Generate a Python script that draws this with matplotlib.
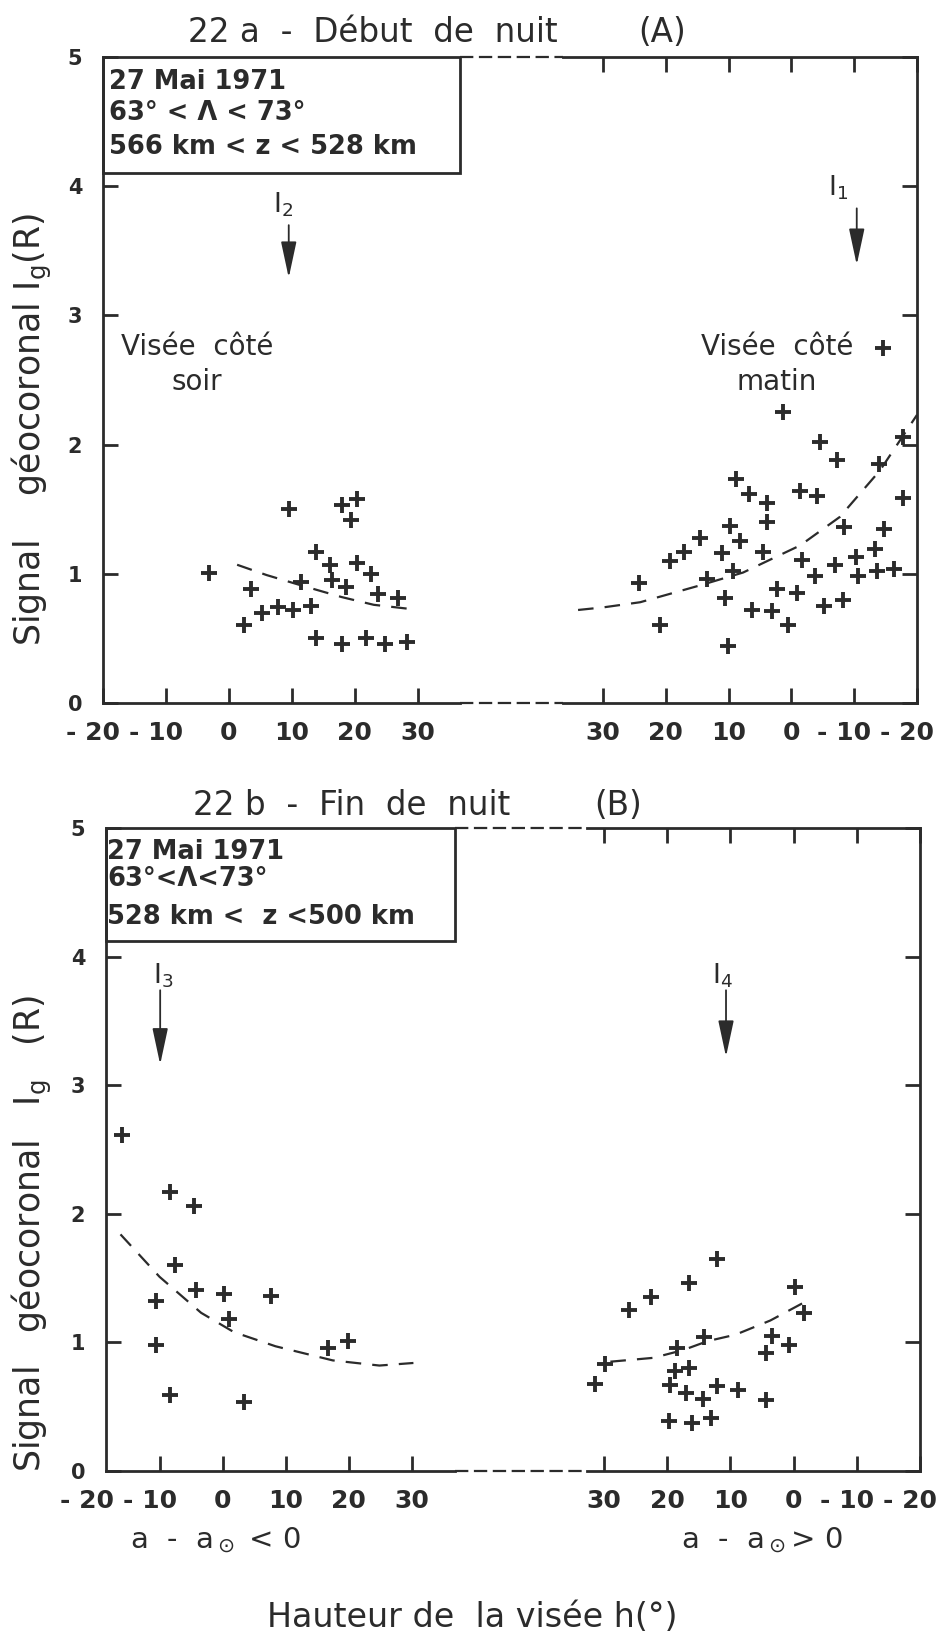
import matplotlib
matplotlib.use('Agg')
from matplotlib import pyplot as plt
from matplotlib.lines import Line2D
from matplotlib.patches import Rectangle

# 22a - debut de nuit, visee cote soir
a_soir_h = [-3.1, 9.5, 17.9, 20.4, 19.4, 13.9, 16.0, 20.4, 22.6, 11.5, 16.3, 18.6, 3.5,
            23.7, 26.8, 5.2, 7.8, 10.1, 13.1, 2.4, 13.8, 17.9, 21.8, 24.8, 28.3]
a_soir_I = [1.01, 1.50, 1.53, 1.58, 1.42, 1.17, 1.07, 1.08, 1.00, 0.94, 0.95, 0.90, 0.88,
            0.84, 0.81, 0.70, 0.74, 0.72, 0.75, 0.60, 0.50, 0.46, 0.50, 0.46, 0.47]
a_soir_fit_h = [1.3, 6.0, 11.5, 17.9, 23.0, 28.4]
a_soir_fit_I = [1.07, 0.99, 0.91, 0.82, 0.76, 0.73]

# 22a - visee cote matin
a_matin_h = [1.3, -4.6, -7.3, -17.8, -14.0, -17.8, 8.8, 6.8, 3.9, -1.4, -4.1, 9.8, 3.9, 14.6,
             8.2, 17.1, 19.3, 11.1, 4.5, -8.4, -14.7, 24.3, 13.4, 9.3, -1.7, -6.9, -10.3,
             -13.3, -3.8, -10.6, -13.6, -16.3, 2.3, -0.9, 10.6, 6.3, 3.1, -5.2, -8.2, 0.5,
             20.9, 10.1, -14.6]
a_matin_I = [2.25, 2.02, 1.88, 2.06, 1.85, 1.59, 1.73, 1.62, 1.55, 1.64, 1.60, 1.37, 1.40, 1.28,
             1.25, 1.17, 1.10, 1.16, 1.17, 1.36, 1.35, 0.93, 0.96, 1.02, 1.11, 1.07, 1.13,
             1.19, 0.98, 0.98, 1.02, 1.04, 0.88, 0.85, 0.81, 0.72, 0.71, 0.75, 0.80, 0.60,
             0.60, 0.44, 2.75]
a_matin_fit_h = [34.0, 30.0, 24.1, 14.6, 7.7, -1.4, -7.7, -14.1, -20.0]
a_matin_fit_I = [0.72, 0.74, 0.78, 0.91, 1.01, 1.22, 1.44, 1.80, 2.23]

# 22b - fin de nuit, cote soir
b_soir_h = [-16.0, -8.3, -4.5, -7.5, -4.2, 0.3, 7.7, -10.6, 1.0, -10.6, 16.7, 19.9, -8.3, 3.4]
b_soir_I = [2.61, 2.17, 2.06, 1.60, 1.41, 1.38, 1.36, 1.32, 1.18, 0.98, 0.96, 1.01, 0.59, 0.54]
b_soir_fit_h = [-16.2, -10.0, -3.4, 1.8, 8.4, 17.5, 24.9, 30.3]
b_soir_fit_I = [1.84, 1.51, 1.23, 1.08, 0.97, 0.86, 0.82, 0.84]

# 22b - cote matin
b_matin_h = [12.2, 16.5, 22.5, 26.1, -0.2, -1.7, 29.8, 31.4, 18.4, 14.2, 3.4, 0.8, 4.3, 18.8,
             16.5, 19.6, 17.0, 14.3, 12.2, 8.8, 4.3, 19.7, 16.1, 13.0]
b_matin_I = [1.65, 1.46, 1.35, 1.25, 1.43, 1.23, 0.83, 0.68, 0.96, 1.04, 1.05, 0.98, 0.92, 0.78,
             0.80, 0.67, 0.61, 0.56, 0.66, 0.63, 0.55, 0.39, 0.37, 0.41]
b_matin_fit_h = [29.0, 22.2, 17.5, 13.6, 9.2, 3.7, -2.0]
b_matin_fit_I = [0.85, 0.88, 0.94, 1.01, 1.06, 1.17, 1.32]

left_ticks = [-20, -10, 0, 10, 20, 30]
right_ticks = [30, 20, 10, 0, -10, -20]
tick_lab = {-20: '- 20', -10: '- 10', 0: '0', 10: '10', 20: '20', 30: '30'}

ink = '#2b2b2b'
W, H = 945, 1635
plt.rcParams['font.family'] = 'DejaVu Sans'
fig = plt.figure(figsize=(W / 100, H / 100), dpi=100)


def box(x0, x1, ytop, ybot):
    return [x0 / W, 1 - ybot / H, (x1 - x0) / W, (ybot - ytop) / H]


def style(ax, xlim, side):
    ax.set_xlim(*xlim)
    ax.set_ylim(0, 5)
    for s in ax.spines.values():
        s.set_linewidth(2.0)
        s.set_color(ink)
    ax.spines['top'].set_visible(side == 'right')
    ax.spines['right' if side == 'left' else 'left'].set_visible(False)
    ax.tick_params(direction='in', length=11, width=2.0, color=ink, pad=13,
                   labelsize=18, labelcolor=ink)
    ax.set_yticks([0, 1, 2, 3, 4, 5])
    for lab in ax.get_yticklabels():
        lab.set_fontweight('bold')
    if side == 'left':
        ax.tick_params(axis='y', labelsize=15, pad=15)
        ax.yaxis.set_ticks_position('left')
    else:
        ax.yaxis.set_ticks_position('right')
        ax.tick_params(axis='y', labelright=False)
        ax.tick_params(axis='x', top=True)


def set_xt(ax, ticks, labels):
    # negative labels: digits centred on the tick, minus sign hanging to the left
    ax.set_xticks(ticks, [tick_lab[t] if t >= 0 else '' for t in ticks], fontweight='bold')
    for t in labels:
        if t < 0:
            ax.annotate(tick_lab[t], xy=(t, 0), xycoords=('data', 'axes fraction'),
                        xytext=(12.5, -13), textcoords='offset points', ha='right', va='top',
                        fontsize=18, fontweight='bold', color=ink, annotation_clip=False)


def scatter_fit(ax, h, I, fh, fI):
    ax.plot(h, I, '+', color=ink, ms=12, mew=2.8, clip_on=False)
    ax.plot(fh, fI, color=ink, lw=1.6, ls=(0, (7, 5)), clip_on=False)


def arrow(ax, x, y0, y1, lab, lx, ly):
    ax.annotate('', xy=(x, y1), xytext=(x, y0),
                arrowprops=dict(arrowstyle='-|>,head_length=1.4,head_width=0.3',
                                lw=1.3, color=ink, mutation_scale=16))
    ax.text(lx, ly, lab, ha='center', va='center', fontsize=19, color=ink)


def gap(y_px, x0, x1):
    fig.add_artist(Line2D([x0 / W, x1 / W], [1 - y_px / H] * 2, color=ink, lw=1.6,
                          ls=(0, (6, 2.5)), transform=fig.transFigure))


def info(ax, xlim, ybot, lines, ys, xt):
    ax.add_patch(Rectangle((xlim[0], ybot), xlim[1] - xlim[0], 5 - ybot, fill=False,
                           lw=2.0, ec=ink, clip_on=False))
    for t, y in zip(lines, ys):
        ax.text(xt, y, t, fontsize=18.5, fontweight='bold', color=ink, va='center', ha='left')


# ---------------- panel A ----------------
xa_l = (-20, 36.7)
xa_r = (36.4, -20)
axA1 = fig.add_axes(box(103, 460, 57, 703))
axA2 = fig.add_axes(box(563, 917, 57, 703))
style(axA1, xa_l, 'left')
style(axA2, xa_r, 'right')
set_xt(axA1, left_ticks, left_ticks)
set_xt(axA2, right_ticks, right_ticks)
scatter_fit(axA1, a_soir_h, a_soir_I, a_soir_fit_h, a_soir_fit_I)
scatter_fit(axA2, a_matin_h, a_matin_I, a_matin_fit_h, a_matin_fit_I)
info(axA1, xa_l, 4.1, ['27 Mai 1971', '63° < Λ < 73°', '566 km < z < 528 km'],
     [4.81, 4.57, 4.30], -19.0)
arrow(axA1, 9.5, 3.72, 3.27, r'I$_2$', 8.6, 3.86)
arrow(axA2, -10.4, 3.85, 3.37, r'I$_1$', -7.4, 3.99)
axA1.text(-5.1, 2.62, 'Visée  côté\nsoir', ha='center', va='center', fontsize=20,
          color=ink, linespacing=1.35)
axA2.text(2.3, 2.62, 'Visée  côté\nmatin', ha='center', va='center', fontsize=20,
          color=ink, linespacing=1.35)
gap(57, 460, 563)
gap(703, 460, 563)
fig.text(373 / W, 1 - 33 / H, '22 a  -  Début  de  nuit', ha='center', va='center',
         fontsize=23.5, color=ink)
fig.text(662 / W, 1 - 33 / H, '(A)', ha='center', va='center', fontsize=23.5, color=ink)
fig.text(32 / W, 1 - 430 / H, r'Signal    géocoronal I$_\mathregular{g}$(R)', rotation=90,
         ha='center', va='center', fontsize=25, color=ink)

# ---------------- panel B ----------------
xb_l = (-18.5, 36.9)
xb_r = (32.7, -20)
axB1 = fig.add_axes(box(106, 455, 828, 1471))
axB2 = fig.add_axes(box(587, 920, 828, 1471))
style(axB1, xb_l, 'left')
style(axB2, xb_r, 'right')
set_xt(axB1, left_ticks[1:], left_ticks)
set_xt(axB2, right_ticks, right_ticks)
scatter_fit(axB1, b_soir_h, b_soir_I, b_soir_fit_h, b_soir_fit_I)
scatter_fit(axB2, b_matin_h, b_matin_I, b_matin_fit_h, b_matin_fit_I)
info(axB1, xb_l, 4.12, ['27 Mai 1971', '63°<Λ<73°', '528 km <  z <500 km'],
     [4.81, 4.60, 4.31], -18.3)
arrow(axB1, -9.9, 3.76, 3.14, r'I$_3$', -9.4, 3.85)
arrow(axB2, 10.7, 3.76, 3.20, r'I$_4$', 11.3, 3.85)
gap(828, 455, 587)
gap(1471, 455, 587)
fig.text(352 / W, 1 - 805 / H, '22 b  -  Fin  de  nuit', ha='center', va='center',
         fontsize=23.5, color=ink)
fig.text(618 / W, 1 - 805 / H, '(B)', ha='center', va='center', fontsize=23.5, color=ink)
fig.text(32 / W, 1 - 1233 / H, r'Signal   géocoronal   I$_\mathregular{g}$   (R)', rotation=90,
         ha='center', va='center', fontsize=25, color=ink)

fig.text(215 / W, 1 - 1540 / H, r'a  -  a$_\odot$ < 0', ha='center', va='center',
         fontsize=21, color=ink)
fig.text(762 / W, 1 - 1540 / H, r'a  -  a$_\odot$> 0', ha='center', va='center',
         fontsize=21, color=ink)
fig.text(472 / W, 1 - 1617 / H, 'Hauteur de  la visée h(°)', ha='center', va='center',
         fontsize=24, color=ink)

fig.savefig('out.png', dpi=100, facecolor='white')
